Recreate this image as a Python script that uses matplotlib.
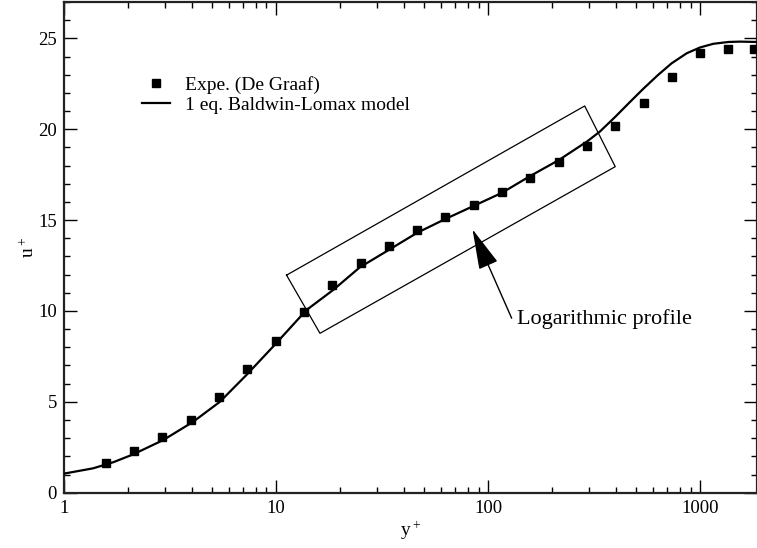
import numpy as np
import matplotlib
matplotlib.use('Agg')
import matplotlib.pyplot as plt
from matplotlib.ticker import MultipleLocator, LogLocator, NullFormatter

plt.rcParams['font.family'] = ['Liberation Serif', 'DejaVu Serif']
plt.rcParams['mathtext.fontset'] = 'custom'
plt.rcParams['mathtext.rm'] = 'Liberation Serif'

#-- experimental points (De Graaf)
exp_y = [1.57, 2.14, 2.90, 3.95, 5.37, 7.30, 9.94, 13.5, 18.4, 25.0, 34.0, 46.2,
         62.8, 85.4, 116, 158, 215, 292, 397, 540, 733, 998, 1356, 1800]
exp_u = [1.63, 2.27, 3.06, 3.98, 5.27, 6.8, 8.37, 9.96, 11.45, 12.64, 13.58, 14.46,
         15.16, 15.82, 16.53, 17.3, 18.18, 19.1, 20.18, 21.45, 22.86, 24.18, 24.4, 24.43]

#-- 1 eq. Baldwin-Lomax model
mod_y = [1.0, 1.37, 1.71, 2.12, 2.94, 4.06, 5.43, 7.25, 9.68, 13.9, 18.6, 24.8, 34.0,
         46.2, 62.8, 85.4, 116, 158, 215, 292, 336, 397, 466, 540, 634, 733, 863,
         998, 1151, 1356, 1539, 1850]
mod_u = [1.05, 1.34, 1.68, 2.11, 2.9, 3.9, 5.0, 6.48, 8.04, 10.05, 11.16, 12.4, 13.36,
         14.3, 15.06, 15.78, 16.5, 17.43, 18.3, 19.32, 19.87, 20.68, 21.5, 22.24, 23.0,
         23.63, 24.18, 24.5, 24.7, 24.8, 24.82, 24.8]

#-- box around the log region (corners)
box_y = [11.2, 16.1, 397, 285, 11.2]
box_u = [11.97, 8.77, 17.94, 21.28, 11.97]

fig = plt.figure(figsize=(7.57, 5.48), dpi=100)
ax = fig.add_axes([64/757., 55.3/548., 693/757., 490.7/548.])

ax.plot(mod_y, mod_u, color='black', lw=1.6, label='1 eq. Baldwin-Lomax model', zorder=3)
ax.plot(exp_y, exp_u, ls='none', marker='s', ms=6, color='black',
        label='Expe. (De Graaf)', zorder=4)
ax.plot(box_y, box_u, color='black', lw=0.9, zorder=2)

#-- arrow and label
ax.annotate('', xy=(84.3, 14.49), xytext=(129, 9.6),
            arrowprops=dict(arrowstyle='-|>,head_length=1.6,head_width=0.4',
                            mutation_scale=16, color='black', lw=1.0,
                            shrinkA=0, shrinkB=0))
ax.text(136, 9.55, 'Logarithmic profile', fontsize=16, ha='left', va='center')

ax.set_xscale('log')
ax.set_xlim(1, 1850)
ax.set_ylim(0, 27)
ax.xaxis.set_minor_locator(LogLocator(base=10, subs=np.arange(2, 10)))
ax.xaxis.set_minor_formatter(NullFormatter())
ax.set_xticks([1, 10, 100, 1000])
ax.set_xticklabels(['1', '10', '100', '1000'])
ax.yaxis.set_major_locator(MultipleLocator(5))
ax.yaxis.set_minor_locator(MultipleLocator(1))

ax.tick_params(which='both', direction='in', top=True, right=True, labelsize=13.5)
ax.tick_params(which='major', length=9.5, width=1.0, pad=5)
ax.tick_params(which='minor', length=4.5, width=1.0)
for s in ax.spines.values():
    s.set_linewidth(1.6)
    s.set_color('#222222')

ax.set_xlabel(r'$\mathrm{y^+}$', fontsize=14, labelpad=2)
ax.set_ylabel(r'$\mathrm{u^+}$', fontsize=14, labelpad=0)

handles, labels = ax.get_legend_handles_labels()
ax.legend(handles[::-1], labels[::-1], loc='upper left', bbox_to_anchor=(0.112, 0.85),
          frameon=False, fontsize=14, handlelength=1.45, handletextpad=0.8,
          labelspacing=0.15, borderpad=0, borderaxespad=0, numpoints=1)

fig.savefig('out.png', dpi=100)
